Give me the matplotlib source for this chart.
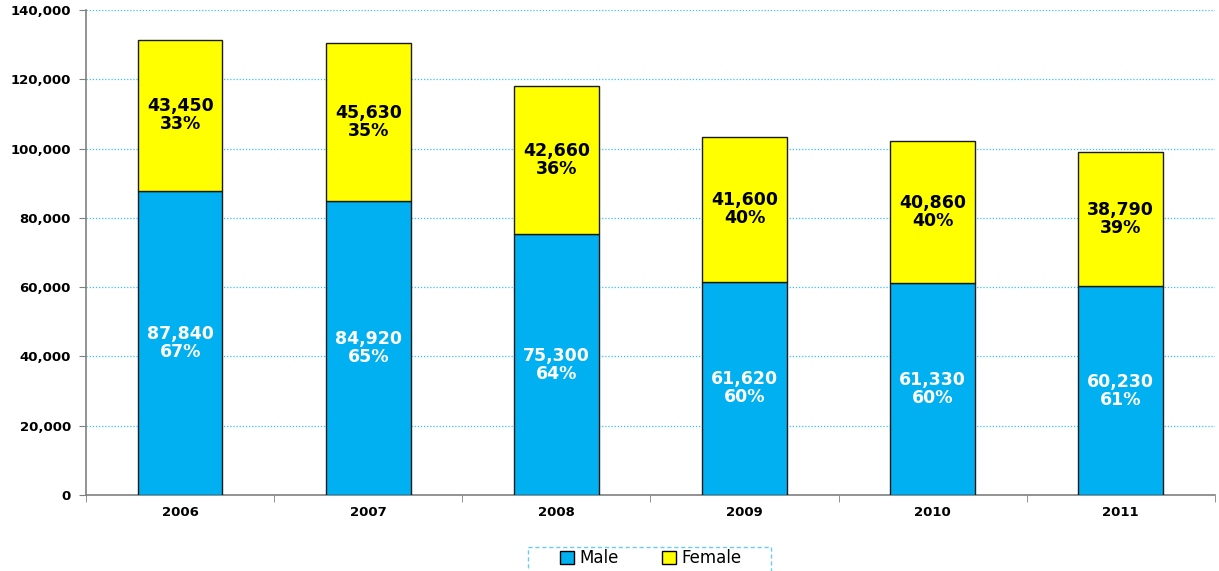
import matplotlib
matplotlib.use("Agg")
import matplotlib.pyplot as plt
from matplotlib.patches import Rectangle
import numpy as np

years = ["2006", "2007", "2008", "2009", "2010", "2011"]
male = [87840, 84920, 75300, 61620, 61330, 60230]
female = [43450, 45630, 42660, 41600, 40860, 38790]
male_pct = ["67%", "65%", "64%", "60%", "60%", "61%"]
female_pct = ["33%", "35%", "36%", "40%", "40%", "39%"]

male_color = "#00B0F0"
female_color = "#FFFF00"

fig = plt.figure(figsize=(12.19, 5.71), dpi=100)
ax = fig.add_axes([0.0706, 0.1331, 0.926, 0.8494])

x = np.arange(len(years))
w = 0.45
ax.bar(x, male, w, color=male_color, edgecolor="#1a1a1a", linewidth=1.0, label="Male", zorder=3)
ax.bar(x, female, w, bottom=male, color=female_color, edgecolor="#1a1a1a", linewidth=1.0, label="Female", zorder=3)

for i in range(len(years)):
    ax.text(x[i], male[i] / 2, f"{male[i]:,}\n{male_pct[i]}", ha="center", va="center",
            color="white", fontsize=12.5, fontweight="bold", linespacing=1.0, zorder=4)
    ax.text(x[i], male[i] + female[i] / 2, f"{female[i]:,}\n{female_pct[i]}", ha="center", va="center",
            color="black", fontsize=12.5, fontweight="bold", linespacing=1.0, zorder=4)

ax.set_xlim(-0.5, len(years) - 0.5)
ax.set_ylim(0, 140000)
ax.set_yticks(np.arange(0, 140001, 20000))
ax.set_yticklabels([f"{v:,}" for v in range(0, 140001, 20000)], fontsize=9.5, fontweight="bold")
ax.set_xticks(x)
ax.set_xticklabels(years, fontsize=9.5, fontweight="bold")
ax.set_xticks(np.arange(-0.5, len(years), 1.0), minor=True)
ax.tick_params(axis="x", which="major", length=0, pad=8)
ax.tick_params(axis="x", which="minor", length=5, color="#808080")
ax.tick_params(axis="y", length=5, color="#808080", pad=6)

ax.yaxis.grid(True, linestyle=(0, (1, 1.5)), color="#33C4F5", linewidth=0.9, zorder=0)
ax.set_axisbelow(True)
for s in ["top", "right"]:
    ax.spines[s].set_visible(False)
for s in ["left", "bottom"]:
    ax.spines[s].set_color("#808080")
    ax.spines[s].set_linewidth(1.2)

# legend frame (dashed light-blue box, cut at the bottom edge)
fig.patches.append(Rectangle((528 / 1219, -0.02), 243 / 1219, 0.02 + 24 / 571,
                             transform=fig.transFigure, fill=False,
                             edgecolor="#66CCF5", linestyle=(0, (3, 2)), linewidth=1.0))

leg = fig.legend(*ax.get_legend_handles_labels(), loc="center",
                 bbox_to_anchor=(651 / 1219, 1 - 558 / 571), bbox_transform=fig.transFigure,
                 ncol=2, frameon=False, fontsize=12, handlelength=0.8, handleheight=0.8,
                 columnspacing=2.6, handletextpad=0.35, borderpad=0.0)
for h in leg.legend_handles:
    h.set_edgecolor("black")
    h.set_linewidth(1.0)

fig.savefig("out.png", dpi=100)
